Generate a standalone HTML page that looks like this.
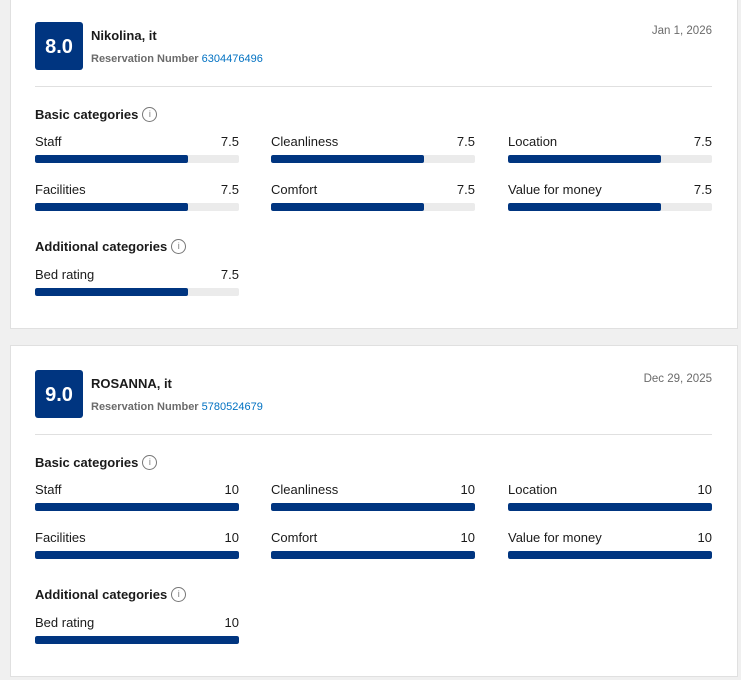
<!DOCTYPE html>
<html><head><meta charset="utf-8">
<style>
body{margin:0;width:741px;height:680px;background:#f0f0f0;font-family:"Liberation Sans",sans-serif;position:relative;overflow:hidden;color:#1a1a1a}
.card{position:absolute;left:10px;width:728px;background:#fff;border:1px solid #e0e0e0;box-sizing:border-box}
.a{position:absolute;white-space:nowrap}
.badge{left:24px;width:48px;height:48px;background:#003580;border-radius:3px;color:#fff;font-weight:bold;font-size:20px;text-align:center;line-height:50px}
.name{left:80px;font-weight:bold;font-size:13px}
.res{left:80px;font-size:11px;color:#6b6b6b;font-weight:bold}
.res span{color:#0071c2;font-weight:normal}
.date{right:25px;font-size:11.5px;color:#6b6b6b}
.div{left:24px;width:677px;height:1px;background:#e0e0e0}
.h{left:24px;font-weight:bold;font-size:13px;line-height:16px}
.h i{display:inline-block;width:13px;height:13px;border:1px solid #777;border-radius:50%;font-size:9px;line-height:13px;text-align:center;color:#777;font-style:normal;vertical-align:top;margin-left:4px;font-weight:normal}
.lab{font-size:13px}
.track{height:8px;background:#ebebeb;border-radius:2px;overflow:hidden}
.fill{height:8px;background:#003580;border-radius:2px}
</style></head><body>
<div id="root"></div>
<script>
const reviewers=["Nikolina, it","ROSANNA, it"];
const scores=["8.0","9.0"];
const resNums=["6304476496","5780524679"];
const dates=["Jan 1, 2026","Dec 29, 2025"];
const categories=["Staff","Cleanliness","Location","Facilities","Comfort","Value for money"];
const values1=[7.5,7.5,7.5,7.5,7.5,7.5];
const values2=[10,10,10,10,10,10];
const bedRating=[7.5,10];
const allValues=[values1,values2];
const maxScore=10;
const tops=[-3,345];
const root=document.getElementById('root');
function x(s){return Math.round(204*s/maxScore);}
function fmt(v){return Number.isInteger(v)?String(v):v.toFixed(1);}
function add(p,cls,html,st,name){const d=document.createElement('div');d.className='a '+cls;d.innerHTML=html;d.style.cssText=st;


p.appendChild(d);return d;}
function bar(card,label,val,cx,ty,n){
 add(card,'lab',label,`left:${cx}px;top:${ty+1}px`,n+'-label');
 add(card,'lab',fmt(val),`left:${cx+154}px;width:50px;text-align:right;top:${ty+1}px`,n+'-value');
 const t=add(card,'track','',`left:${cx}px;top:${ty+22}px;width:204px`,n+'-track');
 const f=document.createElement('div');f.className='fill';f.style.width=x(val)+'px';
 
 
 t.appendChild(f);
}
for(let i=0;i<2;i++){
 const c=document.createElement('div');c.className='card';c.style.top=tops[i]+'px';c.style.height='332px';
 
 
 root.appendChild(c);
 add(c,'badge',scores[i],'top:24px','score-badge');
 add(c,'name',reviewers[i],'top:30px','reviewer-name');
 add(c,'res','Reservation Number <span>'+resNums[i]+'</span>','top:55px','reservation-number');
 add(c,'date',dates[i],'top:27px','review-date');
 add(c,'div','','top:88px','divider');
 add(c,'h','Basic categories<i>i</i>','top:109px','basic-categories-title');
 const cols=[24,260,497];
 categories.forEach((cat,j)=>{bar(c,cat,allValues[i][j],cols[j%3],135+Math.floor(j/3)*48,'cat-'+cat.toLowerCase().replace(/ /g,'-'));});
 add(c,'h','Additional categories<i>i</i>','top:241px','additional-categories-title');
 bar(c,'Bed rating',bedRating[i],24,268,'cat-bed-rating');
}
</script>
</body></html>
